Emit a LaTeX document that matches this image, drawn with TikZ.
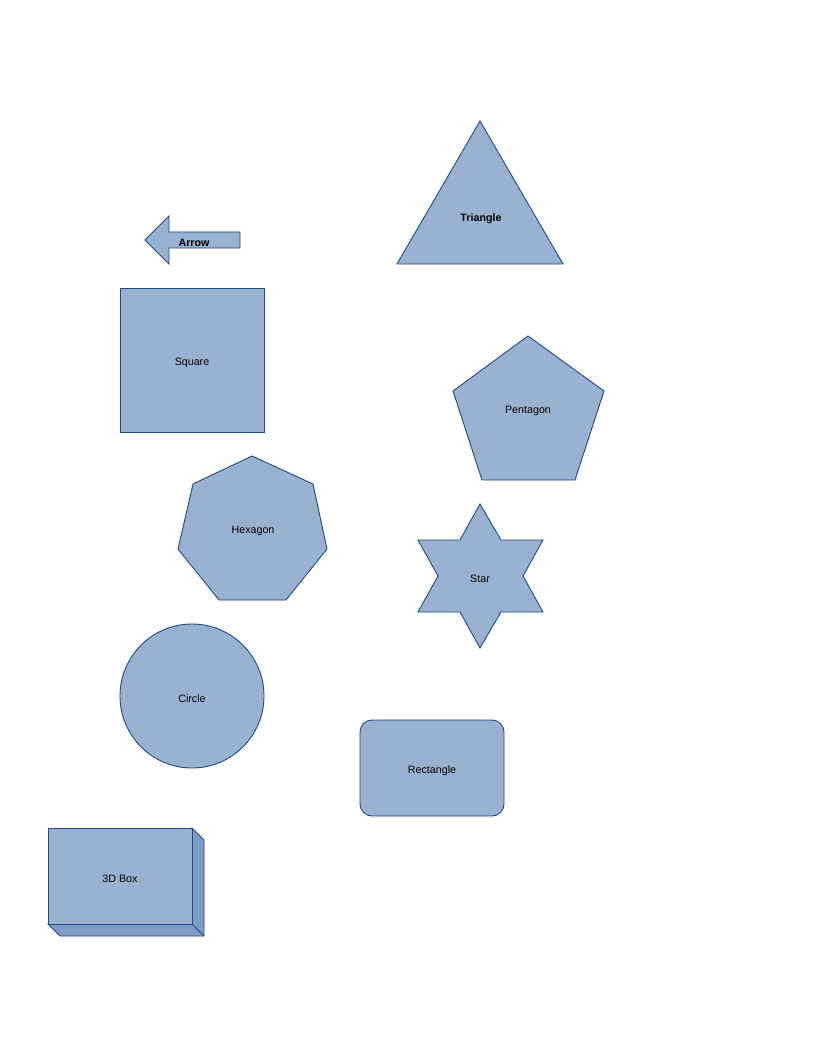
\documentclass[tikz,border=0pt]{standalone}
\usepackage{fontspec}
\setmainfont{Liberation Sans}
\definecolor{shapefill}{HTML}{9AB2D1}
\definecolor{shapeline}{HTML}{1F4A86}
\definecolor{shapeside}{HTML}{7F9CC4}
\begin{document}
\begin{tikzpicture}[x=1pt,y=-1pt,line width=0.9pt]
	\newcommand{\lsize}{\fontsize{10.7}{12}\selectfont}
	\useasboundingbox (0,0) rectangle (816,1056);
	\begin{scope}[draw=shapeline,fill=shapefill,line join=miter]
		\tikzstyle{every node}=[font=\lsize,inner sep=0pt]
		\tikzstyle{shp}=[draw=shapeline,fill=shapefill]
		% triangle
		\filldraw[shp] (480,121) -- (563,264) -- (397,264) -- cycle;
		\node[font=\lsize\bfseries] (triangle) at (481,218.5) {Triangle};
		% arrow
		\filldraw[shp] (145,240) -- (169,216) -- (169,232) -- (240,232) -- (240,248) -- (169,248) -- (169,264) -- cycle;
		\node[font=\lsize\bfseries] (arrow) at (194,242.5) {Arrow};
		% square
		\filldraw[shp] (120,288) rectangle (264,432);
		\node (square) at (192,362.5) {Square};
		% pentagon
		\filldraw[shp] (528,336) -- (604,391) -- (575,480) -- (482,480) -- (453,391) -- cycle;
		\node (pentagon) at (528,410.5) {Pentagon};
		% seven corners, labelled hexagon
		\filldraw[shp] (252,456) -- (313,484) -- (327,549) -- (286,600) -- (219,600) -- (178,549) -- (193,484) -- cycle;
		\node (hexagon) at (253,530.5) {Hexagon};
		% star
		\filldraw[shp] (480,504) -- (501,540) -- (543,540) -- (523,576) -- (543,612) -- (501,612)
			-- (480,648) -- (460,612) -- (418,612) -- (438,576) -- (418,540) -- (460,540) -- cycle;
		\node (star) at (480,578.5) {Star};
		% circle
		\filldraw[shp] (192,696) circle (72);
		\node (circle) at (192,698.5) {Circle};
		% rectangle
		\filldraw[shp,rounded corners=12] (360,720) rectangle (504,816);
		\node (rectangle) at (432,770.5) {Rectangle};
		% 3d box
		\filldraw[draw=shapeline,fill=shapeside] (192,828) -- (204,840) -- (204,936) -- (60,936) -- (48,924) -- (192,924) -- cycle;
		\draw[shapeline] (192,924) -- (204,936);
		\filldraw[shp] (48,828) rectangle (192,924);
		\node (box) at (120,878.5) {3D Box};
	\end{scope}
\end{tikzpicture}
\end{document}
